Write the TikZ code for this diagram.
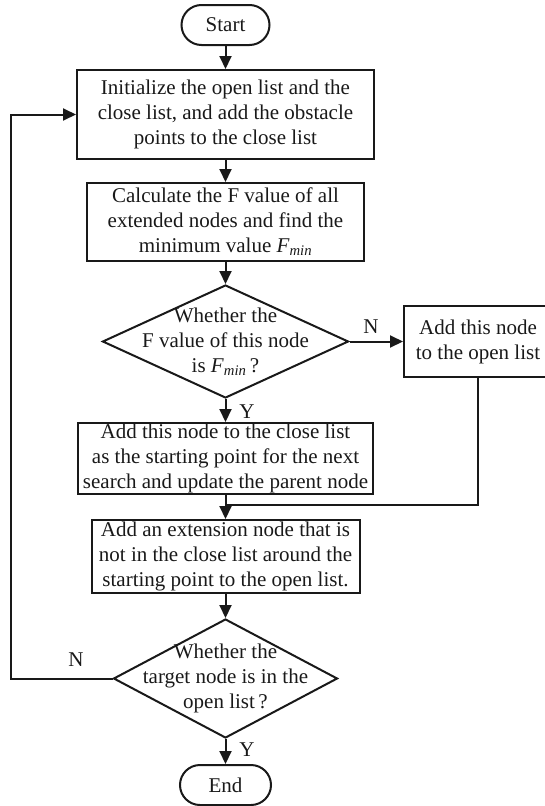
\documentclass[tikz,border=0pt]{standalone}
\usepackage{fontspec}
\setmainfont{Liberation Serif}
\usetikzlibrary{arrows.meta,shapes.geometric}
\newcommand{\Fmin}{\textit{F}\textsubscript{\textit{min}}}
\begin{document}
\begin{tikzpicture}[x=1pt,y=-1pt,
  every node/.style={font=\fontsize{21}{25}\selectfont, text=black!90},
  proc/.style={draw=black!90, line width=2pt, align=center, inner sep=0pt},
  term/.style={proc, rounded corners=20pt, minimum height=40pt},
  dia/.style={draw=black!90, diamond, line width=2pt, inner sep=0pt},
  dtext/.style={align=center, inner sep=0pt},
  link/.style={draw=black!90, line width=2pt},
  flow/.style={link, -{Triangle[length=13pt,width=12pt]}}
]
\useasboundingbox (0,0) rectangle (545,806);

% main column
\node[term, minimum width=88pt] (start) at (225.5,25) {Start};
\node[proc, minimum width=297pt, minimum height=89pt] (init) at (225.5,114.5)
  {Initialize the open list and the\\close list, and add the obstacle\\points to the close list};
\node[proc, minimum width=277pt, minimum height=78pt] (calc) at (225.5,222)
  {Calculate the F value of all\\extended nodes and find the\\minimum value \Fmin};
\node[dia, minimum width=246pt, minimum height=113pt] (isfmin) at (225.5,341.5) {};
\node[dtext] (isfmintxt) at (isfmin) {Whether the\\F value of this node\\is \Fmin\,?};
\node[proc, minimum width=148pt, minimum height=71pt] (toopen) at (478,341.5)
  {Add this node\\to the open list};
\node[proc, minimum width=295pt, minimum height=71pt] (toclose) at (225.5,458.5)
  {Add this node to the close list\\as the starting point for the next\\search and update the parent node};
\node[proc, minimum width=268pt, minimum height=73pt] (extend) at (225.5,556.5)
  {Add an extension node that is\\not in the close list around the\\starting point to the open list.};
\node[dia, minimum width=224pt, minimum height=119pt] (target) at (225.5,678.5) {};
\node[dtext] (targettxt) at (target) {Whether the\\target node is in the\\open list\,?};
\node[term, minimum width=91pt] (end) at (225.5,785) {End};

% branch labels
\node (yes1) at (247,412) {Y};
\node (no1) at (371,327) {N};
\node (no2) at (76,660) {N};
\node (yes2) at (247,750) {Y};

% helper points for the routed lines
\coordinate (join) at (225.5,505);
\coordinate (loopL) at (11,0);

% connectors
\draw[flow] (start) -- (init);
\draw[flow] (init) -- (calc);
\draw[flow] (calc) -- (isfmin);
\draw[flow] (isfmin) -- (toclose);
\draw[flow] (isfmin.east) -- (toopen.west);
\draw[flow] (toclose) -- (extend);
\draw[link] (toopen.south) |- (join);
\draw[flow] (extend) -- (target);
\draw[flow] (target) -- (end);
\draw[flow] (target.west) -- (target.west -| loopL) |- (init.west);
\end{tikzpicture}
\end{document}
